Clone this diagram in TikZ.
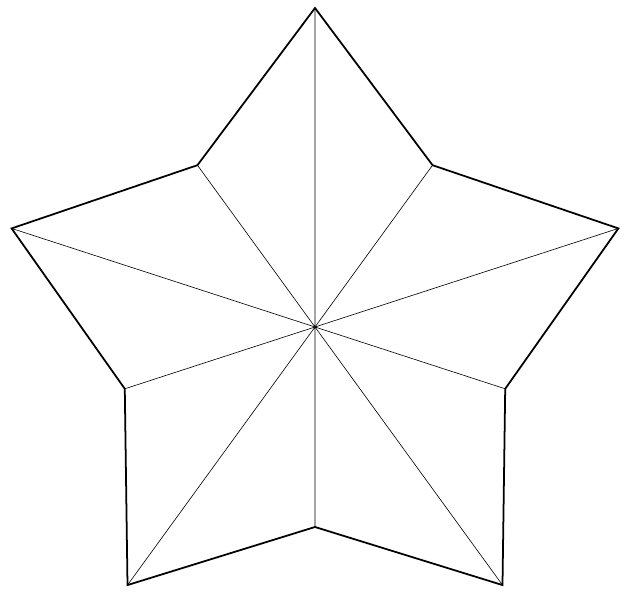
\documentclass[tikz,border=0pt]{standalone}
\usetikzlibrary{calc}
\begin{document}
\begin{tikzpicture}[outline/.style = {line width=1pt, line join=miter},
				spoke/.style = {line width=0.35pt}]
				
				\useasboundingbox (0,0) rectangle (12.6,12.12);
				\coordinate (c) at (6.3,5.58);
				\foreach \i in {1,...,5}{
					\coordinate (o\i) at ($(c)+({90+72*(\i-1)}:6.38)$);
					\coordinate (n\i) at ($(c)+({126+72*(\i-1)}:4.0)$);
				}
				
				\draw[outline] (o1) -- (n1) -- (o2) -- (n2) -- (o3) -- (n3) -- (o4) -- (n4) -- (o5) -- (n5) -- cycle;
				\foreach \i in {1,...,5}
				\draw[spoke] (c) -- (o\i) (c) -- (n\i);
				\end{tikzpicture}
\end{document}
